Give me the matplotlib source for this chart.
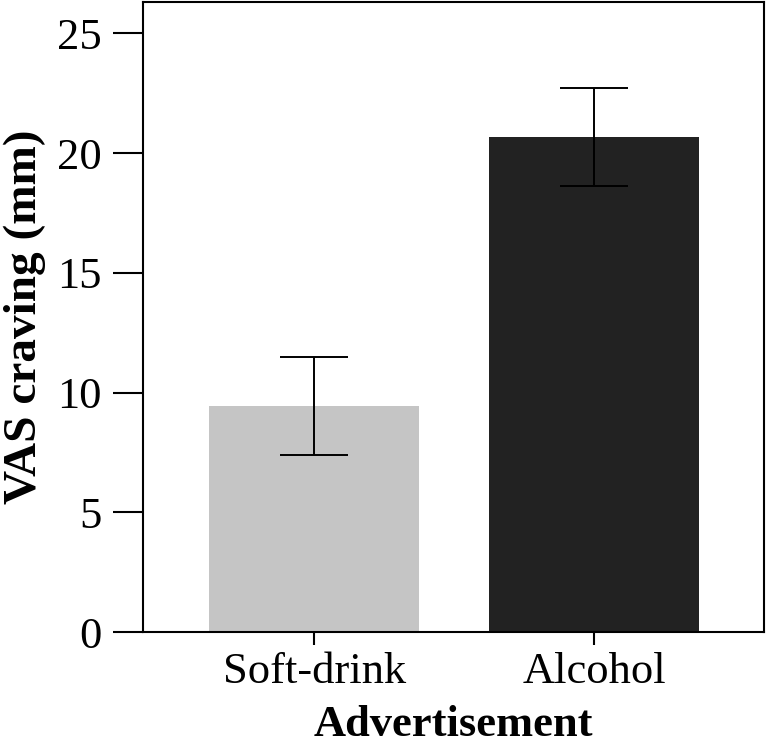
import matplotlib
matplotlib.use("Agg")
import matplotlib.pyplot as plt

categories = ["Soft-drink", "Alcohol"]
means = [9.44, 20.66]
errors = [2.05, 2.05]
colors = ["#c5c5c5", "#222222"]
yticks = [0, 5, 10, 15, 20, 25]

plt.rcParams["font.family"] = ["Liberation Serif", "DejaVu Serif"]

fig = plt.figure(figsize=(7.67, 7.45), dpi=100)
ax = fig.add_axes([143/767, 113/745, 621/767, 630.5/745])

x = list(range(len(categories)))
ax.bar(x, means, width=0.75, color=colors, zorder=1)
ax.errorbar(x, means, yerr=errors, fmt="none", ecolor="black",
            elinewidth=1.4, capsize=24.5, capthick=1.4, zorder=2)

ax.set_xlim(-0.611, 1.607)
ax.set_ylim(0, 26.33)
ax.set_xticks(x)
ax.set_xticklabels(categories)
ax.set_yticks(yticks)
ax.tick_params(axis="y", direction="out", length=21.5, width=1.5,
               labelsize=32, pad=8)
ax.tick_params(axis="x", direction="out", length=9.5, width=1.5,
               labelsize=32, pad=5)
for s in ax.spines.values():
    s.set_linewidth(1.5)

ax.set_xlabel("Advertisement", fontsize=32, fontweight="bold", labelpad=9)
ax.set_ylabel("VAS craving (mm)", fontsize=34, fontweight="bold", labelpad=8)

fig.savefig("out.png", dpi=100)
